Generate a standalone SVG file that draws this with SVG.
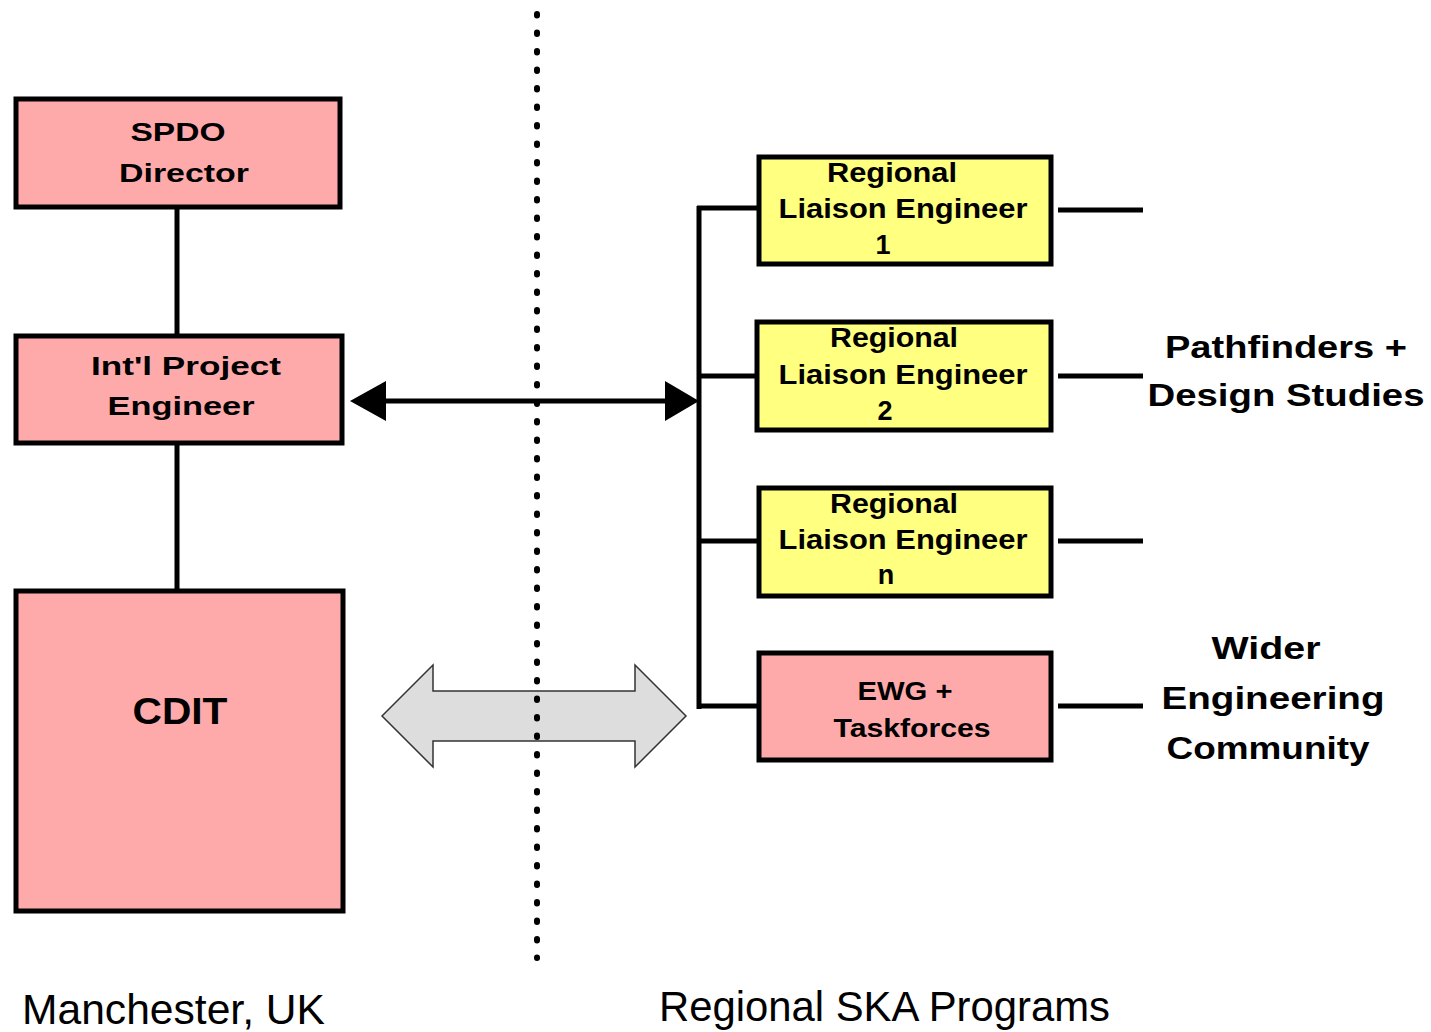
<svg xmlns="http://www.w3.org/2000/svg" width="1431" height="1032" viewBox="0 0 1431 1032">
<style>
.pink{fill:#FFAAAA;stroke:#000;stroke-width:5}
.yel{fill:#FFFF80;stroke:#000;stroke-width:5}
.ln{stroke:#000;stroke-width:5;fill:none}
.bt{font-family:"Liberation Sans",Arial,sans-serif;font-weight:bold;font-size:26px;fill:#000;text-anchor:middle}
.yt{font-family:"Liberation Sans",Arial,sans-serif;font-weight:bold;font-size:27px;fill:#000;text-anchor:middle}
.rt{font-family:"Liberation Sans",Arial,sans-serif;font-weight:bold;font-size:32px;fill:#000;text-anchor:middle}
.lb{font-family:"Liberation Sans",Arial,sans-serif;font-size:42px;fill:#000}
</style>
<rect width="1431" height="1032" fill="#fff"/>
<g id="gray-arrow">
<polygon points="382,716 433,665 433,691 635,691 635,665 686,716 635,767 635,741 433,741 433,767" fill="#DDDDDD" stroke="#333" stroke-width="1.5"/>
</g>
<g id="divider">
<line x1="537" y1="14" x2="537" y2="958" stroke="#000" stroke-width="6" stroke-linecap="round" stroke-dasharray="1.5 17"/>
</g>
<g id="connectors">
<line class="ln" x1="177" y1="209" x2="177" y2="334"/>
<line class="ln" x1="177" y1="445" x2="177" y2="589"/>
<line class="ln" x1="384" y1="401" x2="667" y2="401"/>
<polygon points="350,401 386,381 386,421" fill="#000"/>
<polygon points="699,401 665,381 665,421" fill="#000"/>
<line class="ln" x1="699" y1="206" x2="699" y2="709"/>
<line class="ln" x1="697" y1="208" x2="759" y2="208"/>
<line class="ln" x1="699" y1="376" x2="757" y2="376"/>
<line class="ln" x1="699" y1="541" x2="759" y2="541"/>
<line class="ln" x1="697" y1="706" x2="759" y2="706"/>
<line class="ln" x1="1058" y1="210" x2="1143" y2="210"/>
<line class="ln" x1="1058" y1="376" x2="1143" y2="376"/>
<line class="ln" x1="1058" y1="541" x2="1143" y2="541"/>
<line class="ln" x1="1058" y1="706" x2="1143" y2="706"/>
</g>
<g id="spdo">
<rect class="pink" x="16" y="99" width="324" height="108"/>
<text class="bt" x="178" y="141" textLength="95" lengthAdjust="spacingAndGlyphs">SPDO</text>
<text class="bt" x="184" y="182" textLength="130" lengthAdjust="spacingAndGlyphs">Director</text>
</g>
<g id="ipe">
<rect class="pink" x="16" y="336" width="326" height="107"/>
<text class="bt" x="186" y="375" textLength="190" lengthAdjust="spacingAndGlyphs">Int'l Project</text>
<text class="bt" x="181" y="415" textLength="147" lengthAdjust="spacingAndGlyphs">Engineer</text>
</g>
<g id="cdit">
<rect class="pink" x="16" y="591" width="327" height="320"/>
<text class="bt" x="180" y="724" style="font-size:36px" textLength="95" lengthAdjust="spacingAndGlyphs">CDIT</text>
</g>
<g id="rle1">
<rect class="yel" x="759" y="157" width="292" height="107"/>
<text class="yt" x="892" y="182" textLength="130" lengthAdjust="spacingAndGlyphs">Regional</text>
<text class="yt" x="903" y="218" textLength="249" lengthAdjust="spacingAndGlyphs">Liaison Engineer</text>
<text class="yt" x="883" y="254">1</text>
</g>
<g id="rle2">
<rect class="yel" x="757" y="322" width="294" height="108"/>
<text class="yt" x="894" y="347" textLength="128" lengthAdjust="spacingAndGlyphs">Regional</text>
<text class="yt" x="903" y="384" textLength="249" lengthAdjust="spacingAndGlyphs">Liaison Engineer</text>
<text class="yt" x="885" y="420">2</text>
</g>
<g id="rlen">
<rect class="yel" x="759" y="488" width="292" height="108"/>
<text class="yt" x="894" y="513" textLength="128" lengthAdjust="spacingAndGlyphs">Regional</text>
<text class="yt" x="903" y="549" textLength="249" lengthAdjust="spacingAndGlyphs">Liaison Engineer</text>
<text class="yt" x="886" y="584">n</text>
</g>
<g id="ewg">
<rect class="pink" x="759" y="653" width="292" height="107"/>
<text class="bt" x="905" y="700" textLength="95" lengthAdjust="spacingAndGlyphs">EWG +</text>
<text class="bt" x="912" y="737" textLength="157" lengthAdjust="spacingAndGlyphs">Taskforces</text>
</g>
<g id="pathfinders">
<text class="rt" x="1286" y="358" textLength="242" lengthAdjust="spacingAndGlyphs">Pathfinders +</text>
<text class="rt" x="1286" y="406" textLength="277" lengthAdjust="spacingAndGlyphs">Design Studies</text>
</g>
<g id="wider">
<text class="rt" x="1266" y="659" textLength="109" lengthAdjust="spacingAndGlyphs">Wider</text>
<text class="rt" x="1273" y="709" textLength="223" lengthAdjust="spacingAndGlyphs">Engineering</text>
<text class="rt" x="1268" y="759" textLength="203" lengthAdjust="spacingAndGlyphs">Community</text>
</g>
<g id="labels">
<text class="lb" x="22" y="1024" textLength="303" lengthAdjust="spacingAndGlyphs">Manchester, UK</text>
<text class="lb" x="659" y="1021" textLength="451" lengthAdjust="spacingAndGlyphs">Regional SKA Programs</text>
</g>
</svg>
